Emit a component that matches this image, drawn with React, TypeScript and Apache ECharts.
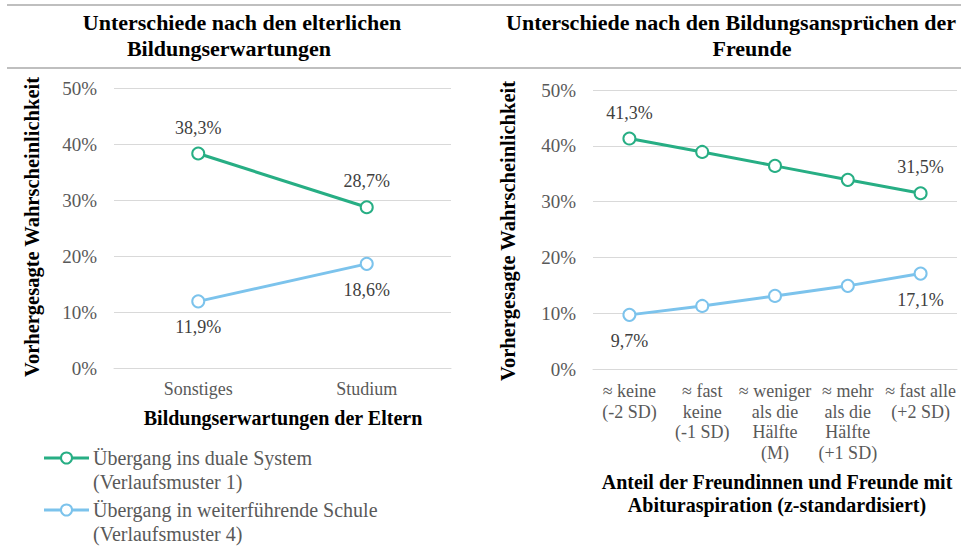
import React, { useEffect, useRef } from "react";
import * as echarts from "echarts";

const leftCategories = ["Sonstiges", "Studium"];
const leftDual = [38.3, 28.7];
const leftSchool = [11.9, 18.6];

const rightCategories = [
  "≈ keine\n(-2 SD)",
  "≈ fast\nkeine\n(-1 SD)",
  "≈ weniger\nals die\nHälfte\n(M)",
  "≈ mehr\nals die\nHälfte\n(+1 SD)",
  "≈ fast alle\n(+2 SD)",
];
const rightDual = [41.3, 38.9, 36.4, 33.9, 31.5];
const rightSchool = [9.7, 11.3, 13.1, 14.9, 17.1];

const yMin = 0;
const yMax = 50;
const yInterval = 10;

const seriesNames = [
  "Übergang ins duale System\n(Verlaufsmuster 1)",
  "Übergang in weiterführende Schule\n(Verlaufsmuster 4)",
];
const leftTitle = ["Unterschiede nach den elterlichen", "Bildungserwartungen"];
const rightTitle = ["Unterschiede nach den Bildungsansprüchen der", "Freunde"];
const yAxisTitle = "Vorhergesagte Wahrscheinlichkeit";
const leftXTitle = "Bildungserwartungen der Eltern";
const rightXTitle = ["Anteil der Freundinnen und Freunde mit", "Abituraspiration (z-standardisiert)"];

const GREEN = "#27AE84";
const BLUE = "#7CC3EC";
const FONT = "'Liberation Serif', 'Times New Roman', serif";

const fmt = (v: number) => v.toFixed(1).replace(".", ",") + "%";

export default function App() {
  const ref = useRef<HTMLDivElement>(null);
  useEffect(() => {
    if (!ref.current) return;
    const chart = echarts.init(ref.current, null, { renderer: "svg" });

    const yAxisBase = (gridIndex: number) => ({
      type: "value",
      gridIndex,
      min: yMin,
      max: yMax,
      interval: yInterval,
      axisLine: { show: false },
      axisTick: { show: false },
      axisLabel: {
        formatter: (v: number) => v + "%",
        color: "#595959",
        fontFamily: FONT,
        fontSize: 19,
        margin: 17,
      },
      splitLine: { lineStyle: { color: "#D9D9D9", width: 1 } },
    });

    const xAxisBase = (gridIndex: number, data: string[], margin: number) => ({
      type: "category",
      gridIndex,
      data,
      boundaryGap: true,
      axisLine: { show: true, lineStyle: { color: "#D9D9D9", width: 1 } },
      axisTick: { show: false },
      axisLabel: {
        interval: 0,
        color: "#595959",
        fontFamily: FONT,
        fontSize: 18,
        lineHeight: 20.5,
        margin,
        align: "center",
      },
    });

    const makeSeries = (
      name: string,
      data: number[],
      color: string,
      xi: number,
      pos: "top" | "bottom",
      showIdx: number[] | null
    ) => ({
      type: "line",
      name,
      data,
      xAxisIndex: xi,
      yAxisIndex: xi,
      symbol: "emptyCircle",
      symbolSize: 12,
      itemStyle: { color, borderWidth: 2 },
      lineStyle: { color, width: 3 },
      label: {
        show: true,
        position: pos,
        distance: 10,
        color: "#404040",
        fontFamily: FONT,
        fontSize: 18,
        formatter: (p: any) =>
          showIdx === null || showIdx.includes(p.dataIndex) ? fmt(p.value) : "",
      },
      z: 3,
    });

    const lastR = rightDual.length - 1;

    const legendItems: any[] = [];
    const legendYs = [458, 510];
    [GREEN, BLUE].forEach((c, i) => {
      const y = legendYs[i];
      legendItems.push({
        type: "line",
        shape: { x1: 44, y1: y, x2: 89, y2: y },
        style: { stroke: c, lineWidth: 3 },
      });
      legendItems.push({
        type: "circle",
        shape: { cx: 66.5, cy: y, r: 5.5 },
        style: { fill: "#fff", stroke: c, lineWidth: 2 },
      });
      const lines = seriesNames[i].split("\n");
      lines.forEach((t, j) => {
        legendItems.push({
          type: "text",
          x: 93,
          y: y + j * 23.5,
          style: {
            text: t,
            fill: "#595959",
            font: `20px ${FONT}`,
            align: "left",
            verticalAlign: "middle",
          },
        });
      });
    });

    const titleText = (text: string, x: number, y: number, size: number) => ({
      type: "text",
      x,
      y,
      style: {
        text,
        fill: "#000",
        font: `bold ${size}px ${FONT}`,
        align: "center",
        verticalAlign: "middle",
      },
    });

    const axisName = (x: number, y: number) => ({
      type: "text",
      x,
      y,
      rotation: Math.PI / 2,
      style: {
        text: yAxisTitle,
        fill: "#000",
        font: `bold 20.5px ${FONT}`,
        align: "center",
        verticalAlign: "middle",
      },
    });

    const option: any = {
      animation: false,
      backgroundColor: "#fff",
      grid: [
        { left: 114, right: 961 - 451, top: 88, bottom: 546 - 368 },
        { left: 593, right: 4, top: 90, bottom: 546 - 369 },
      ],
      xAxis: [xAxisBase(0, leftCategories, 11), xAxisBase(1, rightCategories, 12)],
      yAxis: [yAxisBase(0), yAxisBase(1)],
      series: [
        makeSeries(seriesNames[0], leftDual, GREEN, 0, "top", null),
        makeSeries(seriesNames[1], leftSchool, BLUE, 0, "bottom", null),
        makeSeries(seriesNames[0], rightDual, GREEN, 1, "top", [0, lastR]),
        makeSeries(seriesNames[1], rightSchool, BLUE, 1, "bottom", [0, lastR]),
      ],
      graphic: [
        {
          type: "line",
          shape: { x1: 7, y1: 5, x2: 961, y2: 5 },
          style: { stroke: "#BFBFBF", lineWidth: 2 },
        },
        {
          type: "line",
          shape: { x1: 7, y1: 68, x2: 961, y2: 68 },
          style: { stroke: "#BFBFBF", lineWidth: 2 },
        },
        titleText(leftTitle[0], 242, 22, 22),
        titleText(leftTitle[1], 229, 48, 22),
        titleText(rightTitle[0], 731, 22, 22),
        titleText(rightTitle[1], 752, 48, 22),
        axisName(32, 227),
        axisName(508, 231),
        titleText(leftXTitle, 283, 418, 20),
        titleText(rightXTitle[0], 777, 482, 20),
        titleText(rightXTitle[1], 777, 505, 20),
        ...legendItems,
      ],
    };

    chart.setOption(option);
    return () => chart.dispose();
  }, []);

  return (
    <div
      ref={ref}
      style={{ position: "absolute", left: 0, top: 0, width: 961, height: 546 }}
    />
  );
}
